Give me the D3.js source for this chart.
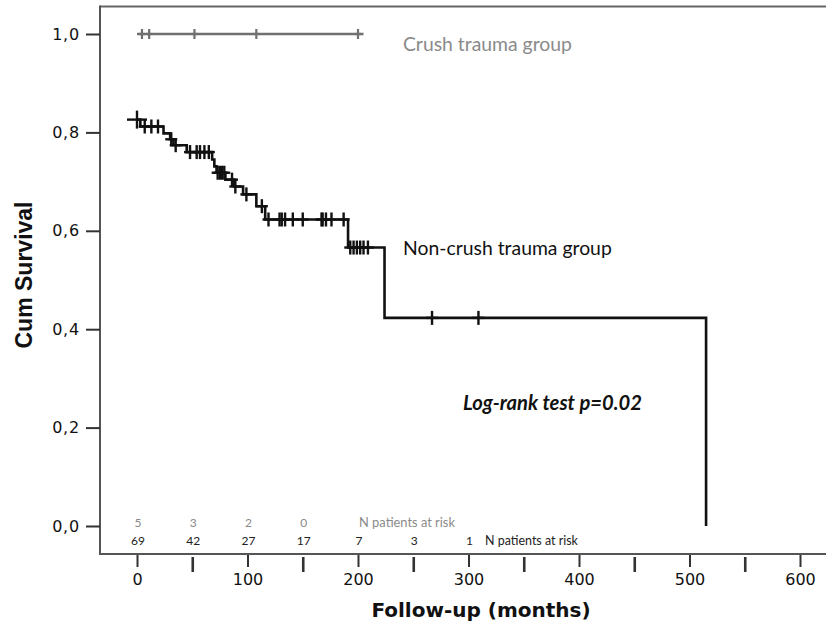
<!DOCTYPE html>
<html><head><meta charset="utf-8">
<script src="https://cdn.jsdelivr.net/npm/d3@7"></script>
<style>
html,body{margin:0;padding:0;background:#fff;}
svg{display:block;}
</style></head>
<body>
<svg id="chart" width="826" height="627"></svg>
<script>
// ---- data ----
const nonCrushTimes    = [0, 3, 24, 30, 33, 45, 68, 70, 72, 80, 88, 96, 108, 116, 191, 224, 515];
const nonCrushSurvival = [0.826, 0.812, 0.798, 0.786, 0.774, 0.760, 0.745, 0.731, 0.718, 0.704, 0.690, 0.674, 0.650, 0.623, 0.566, 0.423, 0];
const nonCrushCensored = [0, 7, 13, 19, 31, 35, 48, 54, 57, 61, 65, 73, 75, 77, 79, 86, 89, 99, 113, 119, 129, 131, 134, 141, 150, 167, 168, 171, 176, 187, 193, 196, 199, 202, 205, 209, 267, 309];
const crushTimes    = [0, 205];
const crushSurvival = [1.0, 1.0];
const crushCensored = [4.5, 11, 52, 108, 200];
const riskTimes     = [0, 50, 100, 150, 200, 250, 300];
const riskCrush     = ["5", "3", "2", "0"];
const riskNonCrush  = ["69", "42", "27", "17", "7", "3", "1"];
const xTicks = [0, 50, 100, 150, 200, 250, 300, 350, 400, 450, 500, 550, 600];
const xTickLabels = [0, 100, 200, 300, 400, 500, 600];
const yTicks = [0, 0.2, 0.4, 0.6, 0.8, 1.0];

const svg = d3.select("#chart");
const x = d3.scaleLinear().domain([0, 600]).range([137, 800]);
const y = d3.scaleLinear().domain([0, 1]).range([526, 34]);
const axisY = 554, frameLeft = 100, frameTop = 6.5;

function fit(sel, w) {
  const n = sel.node();
  const cur = parseFloat(sel.attr("font-size"));
  const len = n.getComputedTextLength();
  sel.attr("font-size", (cur * w / len).toFixed(2));
}

// frame
svg.append("line").attr("x1", frameLeft).attr("x2", 826).attr("y1", frameTop).attr("y2", frameTop)
  .attr("stroke", "#666").attr("stroke-width", 2);
svg.append("line").attr("x1", frameLeft).attr("x2", frameLeft).attr("y1", frameTop - 1).attr("y2", axisY)
  .attr("stroke", "#555").attr("stroke-width", 2);
svg.append("line").attr("x1", frameLeft - 1).attr("x2", 826).attr("y1", axisY).attr("y2", axisY)
  .attr("stroke", "#555").attr("stroke-width", 2);

// x axis
const xAxis = d3.axisBottom(x).tickValues(xTicks).tickSize(0).tickFormat("");
const gx = svg.append("g").attr("transform", `translate(0,${axisY})`).call(xAxis);
gx.select(".domain").remove();
gx.selectAll(".tick line").remove();
gx.selectAll(".tick").append("line")
  .attr("y1", d => d % 100 === 0 ? 1 : 3)
  .attr("y2", d => d % 100 === 0 ? 13 : 18)
  .attr("stroke", "#333")
  .attr("stroke-width", d => d % 100 === 0 ? 2 : 2.6);
gx.selectAll(".tick").filter(d => xTickLabels.includes(d)).append("text")
  .attr("y", 31).attr("fill", "#111").attr("text-anchor", "middle")
  .attr("font-family", "DejaVu Sans").attr("font-size", 16)
  .text(d => d);

// y axis
const yAxis = d3.axisLeft(y).tickValues(yTicks).tickSize(14).tickPadding(6)
  .tickFormat(d => d3.format(".1f")(d).replace(".", ","));
const gy = svg.append("g").attr("transform", `translate(${frameLeft},0)`).call(yAxis);
gy.select(".domain").remove();
gy.selectAll(".tick line").attr("stroke", "#333").attr("stroke-width", 2);
gy.selectAll(".tick text").attr("fill", "#111").attr("font-family", "DejaVu Sans")
  .attr("font-size", 16).attr("letter-spacing", 0.8);

// axis titles
svg.append("text").attr("x", 481).attr("y", 617).attr("text-anchor", "middle")
  .attr("font-family", "DejaVu Sans").attr("font-weight", "bold").attr("font-size", 20)
  .attr("fill", "#111").text("Follow-up (months)");
svg.append("text").attr("transform", "translate(32,275) rotate(-90)").attr("text-anchor", "middle")
  .attr("font-family", "Liberation Sans").attr("font-weight", "bold").attr("font-size", 23)
  .attr("fill", "#111").text("Cum Survival");

// survival curves
const line = d3.line().x(d => x(d[0])).y(d => y(d[1])).curve(d3.curveStepAfter);
const ncPts = nonCrushTimes.map((t, i) => [t, nonCrushSurvival[i]]);
const crPts = crushTimes.map((t, i) => [t, crushSurvival[i]]);
function survAt(times, surv, t) {
  let s = surv[0];
  for (let i = 0; i < times.length; i++) if (times[i] <= t) s = surv[i];
  return s;
}

svg.append("path").datum(crPts).attr("d", line).attr("fill", "none")
  .attr("stroke", "#707070").attr("stroke-width", 2.4);
svg.append("path").datum(ncPts).attr("d", line).attr("fill", "none")
  .attr("stroke", "#111").attr("stroke-width", 2.6);

// censor marks
const crG = svg.append("g").attr("stroke", "#707070").attr("stroke-width", 2.2);
crushCensored.forEach(t => {
  const cx = x(t), cy = y(survAt(crushTimes, crushSurvival, t));
  crG.append("line").attr("x1", cx).attr("x2", cx).attr("y1", cy - 5).attr("y2", cy + 5);
  crG.append("line").attr("x1", cx - 3).attr("x2", cx + 3).attr("y1", cy).attr("y2", cy);
});
const ncG = svg.append("g").attr("stroke", "#111").attr("stroke-width", 2.4);
nonCrushCensored.forEach((t, i) => {
  const cx = x(t), cy = y(survAt(nonCrushTimes, nonCrushSurvival, t));
  const h = i === 0 ? 9 : 7, w = i === 0 ? 10 : 6;
  ncG.append("line").attr("x1", cx).attr("x2", cx).attr("y1", cy - h).attr("y2", cy + h);
  ncG.append("line").attr("x1", cx - w).attr("x2", cx + w).attr("y1", cy).attr("y2", cy);
});

// annotations
const t1 = svg.append("text").attr("x", 403).attr("y", 51).attr("font-family", "Lato")
  .attr("font-size", 19).attr("fill", "#8a8a8a").text("Crush trauma group");
fit(t1, 169);
const t2 = svg.append("text").attr("x", 403).attr("y", 255).attr("font-family", "Lato")
  .attr("font-size", 19).attr("fill", "#111").text("Non-crush trauma group");
fit(t2, 209);
const t3 = svg.append("text").attr("x", 463).attr("y", 410).attr("font-family", "Lato")
  .attr("font-weight", "bold").attr("font-style", "italic")
  .attr("font-size", 18).attr("fill", "#111").text("Log-rank test p=0.02");
fit(t3, 179);

// numbers at risk
const rg = svg.append("g").attr("font-family", "Lato").attr("font-size", 12).attr("text-anchor", "middle");
riskCrush.forEach((v, i) => {
  rg.append("text").attr("x", x(riskTimes[i]) + 1).attr("y", 527).attr("fill", "#8a8a8a").text(v);
});
riskNonCrush.forEach((v, i) => {
  rg.append("text").attr("x", x(riskTimes[i]) + 1).attr("y", 545).attr("fill", "#222").text(v);
});
const n1 = svg.append("text").attr("x", 359).attr("y", 527).attr("font-family", "Lato")
  .attr("font-size", 12).attr("fill", "#8a8a8a").text("N patients at risk");
fit(n1, 96);
const n2 = svg.append("text").attr("x", 485).attr("y", 545).attr("font-family", "Lato")
  .attr("font-size", 12).attr("fill", "#222").text("N patients at risk");
fit(n2, 93);
</script>
</body></html>
